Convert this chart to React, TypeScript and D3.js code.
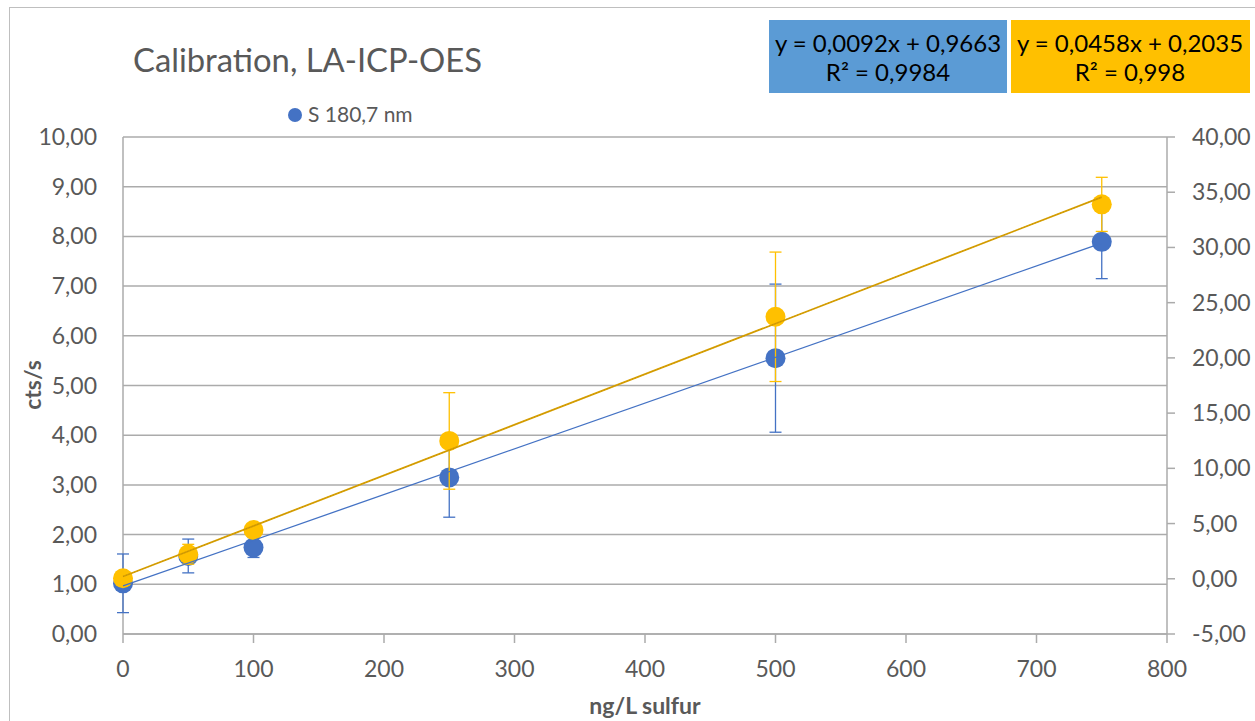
import React from "react";
import * as d3 from "d3";

// Sulfur standards (ng/L)
const concentrations = [0, 50, 100, 250, 500, 750];

// S 180,7 nm line – primary axis (cts/s)
const s1807Mean = [1.02, 1.57, 1.74, 3.15, 5.55, 7.89];
const s1807Err = [0.59, 0.34, 0.2, 0.8, 1.49, 0.74];

// Second emission line – secondary axis
const s2Mean = [0.05, 2.22, 4.42, 12.48, 23.72, 33.9];
const s2Err = [0.5, 0.9, 0.5, 4.37, 5.86, 2.45];

// Linear fits
const fit1 = { slope: 0.0092, intercept: 0.9663, label: "y = 0,0092x + 0,9663", r2: "R² = 0,9984" };
const fit2 = { slope: 0.0458, intercept: 0.2035, label: "y = 0,0458x + 0,2035", r2: "R² = 0,998" };

const xTicks = [0, 100, 200, 300, 400, 500, 600, 700, 800];
const yLeftTicks = [0, 1, 2, 3, 4, 5, 6, 7, 8, 9, 10];
const yRightTicks = [-5, 0, 5, 10, 15, 20, 25, 30, 35, 40];

const W = 1255;
const H = 721;
const FONT = "Lato, 'Noto Sans', sans-serif";
const GREY_TEXT = "#595959";
const GRID = "#ABABAB";
const BLUE = "#4472C4";
const GOLD = "#FFC000";
const TICK_FS = 23;

const fmt = (v: number) => v.toFixed(2).replace(".", ",");

export default function App() {
  const x = d3.scaleLinear().domain([0, 800]).range([123, 1167]);
  const yL = d3.scaleLinear().domain([0, 10]).range([634, 137]);
  const yR = d3.scaleLinear().domain([-5, 40]).range([634, 137]);

  const xMax = d3.max(concentrations) as number;
  const line1 = d3.line<number>().x((d) => x(d)).y((d) => yL(fit1.slope * d + fit1.intercept));
  const line2 = d3.line<number>().x((d) => x(d)).y((d) => yR(fit2.slope * d + fit2.intercept));

  const cap = 6;
  const r = 10;

  const errorBars = (
    means: number[],
    errs: number[],
    y: d3.ScaleLinear<number, number>,
    color: string,
    key: string
  ) =>
    concentrations.map((c, i) => {
      const cx = x(c);
      const top = y(means[i] + errs[i]);
      const bot = y(means[i] - errs[i]);
      return (
        <g key={key + i} stroke={color} strokeWidth={1.3}>
          <line x1={cx} x2={cx} y1={top} y2={bot} />
          <line x1={cx - cap} x2={cx + cap} y1={top} y2={top} />
          <line x1={cx - cap} x2={cx + cap} y1={bot} y2={bot} />
        </g>
      );
    });

  return (
    <svg
      width={W}
      height={H}
      style={{ position: "absolute", left: 0, top: 0, background: "#fff" }}
      fontFamily={FONT}
    >
      <rect x={0} y={0} width={W} height={H} fill="#fff" />
      {/* chart area border */}
      <rect x={9.5} y={7.5} width={W + 20} height={H + 20} fill="none" stroke="#BFBFBF" strokeWidth={1} />

      {/* title */}
      <text x={133} y={72} fontSize={33} fill={GREY_TEXT} textLength={349} lengthAdjust="spacingAndGlyphs">
        Calibration, LA-ICP-OES
      </text>

      {/* legend */}
      <circle cx={295} cy={115} r={7} fill={BLUE} />
      <text x={308} y={122} fontSize={21} fill={GREY_TEXT}>
        S 180,7 nm
      </text>

      {/* fit equation boxes */}
      <rect x={769} y={20} width={238} height={73} fill="#5B9BD5" />
      <text x={888} y={52} fontSize={24} textAnchor="middle" fill="#000">
        {fit1.label}
      </text>
      <text x={888} y={81} fontSize={24} textAnchor="middle" fill="#000">
        {fit1.r2}
      </text>
      <rect x={1011} y={20} width={239} height={73} fill={GOLD} />
      <text x={1130} y={52} fontSize={24} textAnchor="middle" fill="#000">
        {fit2.label}
      </text>
      <text x={1130} y={81} fontSize={24} textAnchor="middle" fill="#000">
        {fit2.r2}
      </text>

      {/* horizontal gridlines */}
      {yLeftTicks.map((t) => (
        <line key={"g" + t} x1={x(0)} x2={x(800)} y1={yL(t)} y2={yL(t)} stroke={GRID} strokeWidth={1.5} />
      ))}

      {/* left axis */}
      <line x1={x(0)} x2={x(0)} y1={yL(10)} y2={yL(0)} stroke={GRID} strokeWidth={1.5} />
      {yLeftTicks.map((t) => (
        <text key={"yl" + t} x={97} y={yL(t) + 8} fontSize={TICK_FS} textAnchor="end" fill={GREY_TEXT}>
          {fmt(t)}
        </text>
      ))}

      {/* right axis */}
      <line x1={x(800)} x2={x(800)} y1={yR(40)} y2={yR(-5)} stroke={GRID} strokeWidth={1.5} />
      {yRightTicks.map((t) => (
        <g key={"yr" + t}>
          <line x1={x(800)} x2={x(800) + 8} y1={yR(t)} y2={yR(t)} stroke={GRID} strokeWidth={1.5} />
          <text x={1192} y={yR(t) + 8} fontSize={TICK_FS} fill={GREY_TEXT}>
            {fmt(t)}
          </text>
        </g>
      ))}

      {/* bottom axis */}
      <line x1={x(0)} x2={x(800)} y1={yL(0)} y2={yL(0)} stroke={GRID} strokeWidth={1.5} />
      {xTicks.map((t) => (
        <g key={"x" + t}>
          <line x1={x(t)} x2={x(t)} y1={yL(0)} y2={yL(0) + 9} stroke={GRID} strokeWidth={1.5} />
          <text x={x(t)} y={677} fontSize={TICK_FS} textAnchor="middle" fill={GREY_TEXT}>
            {t}
          </text>
        </g>
      ))}

      {/* axis titles */}
      <text
        transform={`translate(41, 385) rotate(-90)`}
        fontSize={23}
        fontWeight="bold"
        textAnchor="middle"
        fill={GREY_TEXT}
      >
        cts/s
      </text>
      <text x={645} y={714} fontSize={23} fontWeight="bold" textAnchor="middle" fill={GREY_TEXT}>
        ng/L sulfur
      </text>

      {/* S 180,7 nm series */}
      {errorBars(s1807Mean, s1807Err, yL, BLUE, "e1")}
      {concentrations.map((c, i) => (
        <circle key={"p1" + i} cx={x(c)} cy={yL(s1807Mean[i])} r={r} fill={BLUE} />
      ))}

      {/* secondary series */}
      {errorBars(s2Mean, s2Err, yR, GOLD, "e2")}
      {concentrations.map((c, i) => (
        <circle key={"p2" + i} cx={x(c)} cy={yR(s2Mean[i])} r={r} fill={GOLD} />
      ))}

      {/* trendlines */}
      <path d={line1([0, xMax]) ?? ""} fill="none" stroke={BLUE} strokeWidth={1.3} />
      <path d={line2([0, xMax]) ?? ""} fill="none" stroke="#D9A000" strokeWidth={1.8} />
      <path d={line2([0, xMax]) ?? ""} fill="none" stroke="#B88A10" strokeWidth={0.8} strokeDasharray="1 2" />
    </svg>
  );
}
